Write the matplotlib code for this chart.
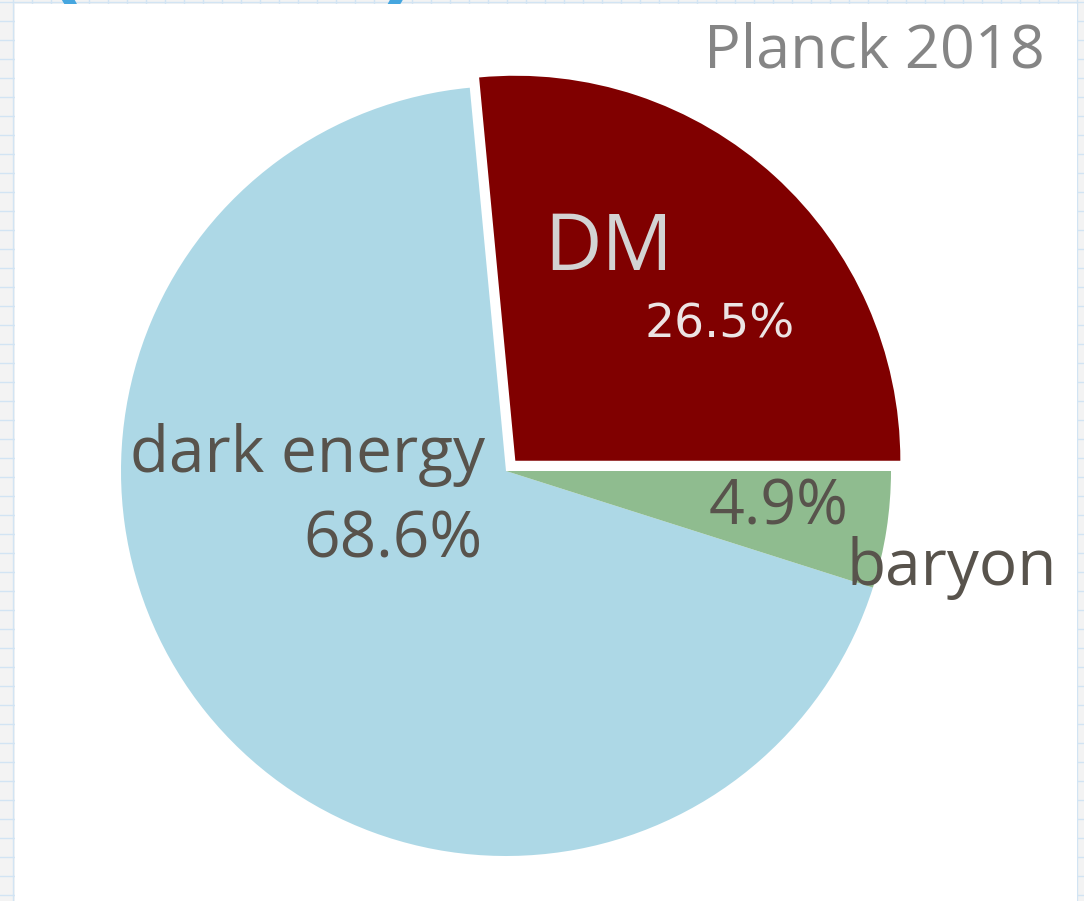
import matplotlib
matplotlib.use("Agg")
import matplotlib.pyplot as plt
import numpy as np

# Planck 2018 energy budget
labels = ["DM", "dark energy", "baryon"]
fractions = [26.5, 68.6, 4.9]
colors = ["maroon", "lightblue", "darkseagreen"]
explode_frac = [0.036, 0, 0]

W, H = 1084, 901
R = 385
fig = plt.figure(figsize=(W / 100, H / 100), dpi=100)
fig.patch.set_facecolor("#f3f3f3")
ax = fig.add_axes([0, 0, 1, 1])

# graph paper around the slide
for x in np.arange(-6, W, 19):
    ax.axvline(x, color="#d2e4f3", lw=1, zorder=0)
for y in np.arange(H - 2, 0, -19):
    ax.axhline(y, color="#d2e4f3", lw=1, zorder=0)
ax.text(50, H + 6, "(ΛCDM)", fontsize=72, color="#45a6df", family=["Open Sans", "DejaVu Sans"],
        fontweight="bold", va="baseline", zorder=0.5, clip_on=True)
ax.add_patch(plt.Rectangle((15, 0), 1062, H - 4, facecolor="white", edgecolor="none", zorder=1))

# explode is in data units here, so scale by the radius
wedges, texts, autotexts = ax.pie(fractions, labels=labels, colors=colors,
                                  explode=[e * R for e in explode_frac],
                                  startangle=0, counterclock=True, center=(506, H - 471), radius=R,
                                  autopct="%.1f%%", frame=True,
                                  wedgeprops=dict(edgecolor="none", linewidth=0))
for w in wedges:
    w.set_zorder(2)
ax.set_xlim(0, W)
ax.set_ylim(0, H)
ax.set_aspect("equal")
ax.axis("off")

font = ["Open Sans", "DejaVu Sans"]
textcol = "#58534c"

# label placement (pixel coords from top-left)
label_pos = [(609, 250), (307, 455), (952, 568)]
pct_pos = [(720, 325), (393, 540), (779, 508)]

for t, (x, y) in zip(texts, label_pos):
    t.set_position((x, H - y))
    t.set_ha("center")
    t.set_va("center")
    t.set_family(font)
    t.set_fontsize(46)
    t.set_color(textcol)
    t.set_zorder(5)
texts[0].set_fontsize(57)
texts[0].set_color("#d3d3d3")

for t, (x, y) in zip(autotexts, pct_pos):
    t.set_position((x, H - y))
    t.set_ha("center")
    t.set_va("center")
    t.set_family(font)
    t.set_fontsize(46)
    t.set_color(textcol)
    t.set_zorder(5)
autotexts[2].set_fontsize(45)
autotexts[0].set_family("DejaVu Sans")
autotexts[0].set_fontsize(34)
autotexts[0].set_color("#ece4e4")

ax.text(1045, H - 52, "Planck 2018", ha="right", va="center", fontsize=44,
        color="#858585", family=font, zorder=5)

fig.savefig("out.png", dpi=100, facecolor=fig.get_facecolor())
